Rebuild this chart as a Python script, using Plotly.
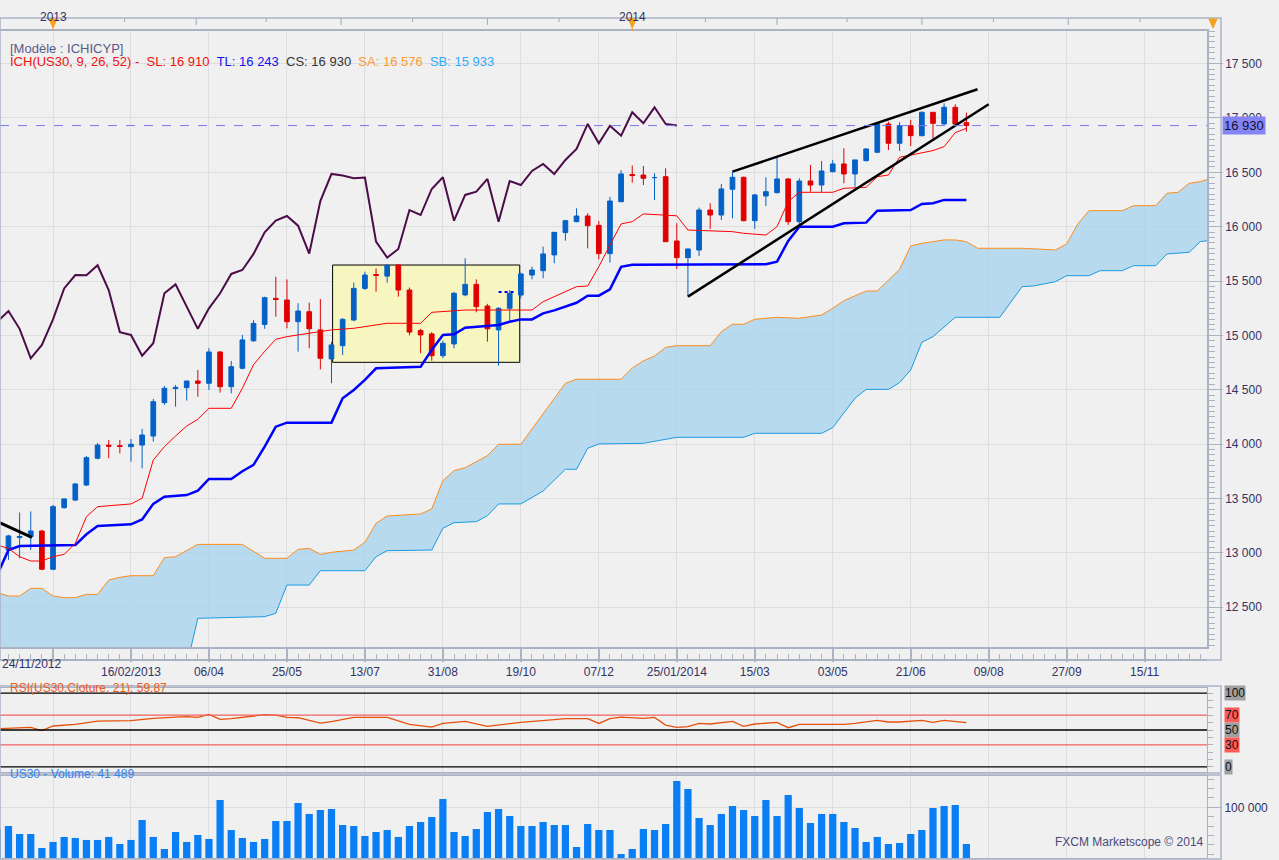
import pandas as pd
import plotly.graph_objects as go

# US30 weekly, 24/11/2012 -> 26/07/2014 (FXCM Marketscope, Ichimoku 9/26/52)
week0 = pd.Timestamp("2013-02-16")          # week number 0 = the 16/02/2013 tick
dates = pd.date_range("2012-11-24", "2014-07-26", freq="7D")

opens = [13000, 13025, 13140, 13148, 13200, 12848, 13415, 13485, 13623, 13869, 13990, 13985,
         13976, 13991, 14074, 14381, 14510, 14519, 14580, 14559, 14847, 14528, 14697, 14950,
         15100, 15340, 15325, 15126, 15218, 15050, 14783, 14905, 15141, 15432, 15560, 15545,
         15647, 15417, 15045, 15013, 14813, 14921, 15372, 15469, 15270, 15050, 15249, 15371,
         15555, 15595, 15740, 15945, 16046, 16098, 16012, 15752, 16230, 16480, 16475, 16450,
         16460, 15868, 15715, 15785, 16153, 16107, 16344, 16454, 16055, 16282, 16313, 16439,
         16046, 16420, 16383, 16506, 16577, 16485, 16607, 16684, 16945, 16767, 16929, 16837,
         17052, 16945, 17098, 16957]
highs = [13080, 13165, 13370, 13380, 13210, 13440, 13500, 13640, 13890, 14010, 14037, 14037,
         14047, 14139, 14415, 14534, 14543, 14580, 14682, 14881, 14856, 14764, 15004, 15140,
         15356, 15540, 15515, 15295, 15300, 15334, 14940, 15160, 15485, 15586, 15616, 15650,
         15652, 15440, 15060, 15030, 14950, 15400, 15709, 15515, 15290, 15260, 15417, 15577,
         15632, 15816, 15950, 16060, 16169, 16123, 16052, 16276, 16520, 16562, 16558, 16491,
         16537, 16031, 15795, 16175, 16215, 16393, 16506, 16460, 16300, 16454, 16638, 16445,
         16445, 16568, 16604, 16614, 16721, 16614, 16720, 16960, 16966, 16960, 16982, 17060,
         17055, 17135, 17126, 17049]
lows = [12960, 12935, 12950, 13025, 12840, 12840, 13405, 13475, 13615, 13860, 13869, 13915,
        13838, 13777, 14022, 14360, 14344, 14400, 14436, 14498, 14473, 14467, 14688, 14940,
        15060, 15172, 15065, 14850, 14881, 14687, 14559, 14820, 15130, 15417, 15402, 15485,
        15356, 15000, 14835, 14767, 14790, 14880, 15360, 15212, 14942, 14721, 15120, 15340,
        15515, 15525, 15663, 15871, 16040, 15800, 15700, 15669, 16225, 16405, 16383, 16245,
        15862, 15611, 15356, 15730, 15979, 16061, 16077, 16050, 15979, 16190, 16305, 16016,
        16000, 16322, 16316, 16500, 16399, 16368, 16600, 16680, 16705, 16696, 16742, 16830,
        16813, 16940, 16940, 16874]
closes = [13040, 13155, 13150, 13200, 12848, 13424, 13495, 13633, 13875, 13991, 13980, 13978,
          13998, 14083, 14390, 14513, 14522, 14580, 14559, 14847, 14528, 14712, 14958, 15110,
          15347, 15330, 15126, 15224, 15060, 14789, 14912, 15147, 15432, 15555, 15552, 15645,
          15417, 15030, 15004, 14813, 14927, 15387, 15469, 15264, 15060, 15249, 15387, 15565,
          15601, 15749, 15948, 16055, 16098, 16009, 15752, 16236, 16485, 16470, 16445, 16452,
          15862, 15715, 15795, 16153, 16107, 16347, 16454, 16055, 16292, 16322, 16439, 16046,
          16420, 16383, 16512, 16577, 16485, 16614, 16715, 16945, 16767, 16929, 16837, 17052,
          16951, 17098, 16945, 16930]
volumes = [64900, 70200, 57400, 57400, 35100, 44700, 52700, 51100, 47900, 47900, 52700, 41500,
           47900, 79800, 52700, 33500, 60600, 44700, 55800, 49500, 111700, 63800, 51100, 44700,
           49500, 78200, 78200, 106900, 89400, 95700, 97300, 71800, 70200, 54200, 60600, 63800,
           52700, 70200, 76600, 84600, 113300, 60600, 54200, 65400, 92600, 97300, 86200, 70200,
           70200, 76600, 71800, 71800, 36700, 73400, 63800, 63800, 25500, 33500, 65400, 63800,
           73400, 142000, 129300, 83000, 71800, 89400, 102100, 95700, 86200, 111700, 86200, 119700,
           98900, 75000, 89400, 89400, 76600, 67000, 44700, 52700, 41500, 43100, 57400, 63800,
           98900, 102100, 103700, 41489]

# indicator lines, vertices (week number, value)
tenkan_w = [-12, -11, -10, -9, -8, -7, -6, -5, -4, -3, 0, 1, 2, 3, 4, 5, 6, 7, 9, 10, 11, 12, 13,
            14, 15, 17, 18, 20, 23, 26, 27, 30, 36, 37, 40, 41, 42, 43, 44, 45, 46, 49, 50, 54, 55,
            57, 58, 59, 60, 63, 64, 66, 67, 68, 69, 72, 73, 74, 75]
tenkan_v = [13070, 13040, 12964, 12924, 12924, 12964, 12985, 13087, 13332, 13424, 13449, 13501,
            13853, 13976, 14074, 14166, 14228, 14329, 14329, 14513, 14730, 14853, 14964, 14988,
            15004, 15034, 15050, 15065, 15111, 15111, 15212, 15233, 15233, 15310, 15448, 15454,
            15632, 15831, 16025, 16046, 16117, 16100, 15969, 15954, 15939, 15923, 16000, 16230,
            16316, 16316, 16353, 16362, 16460, 16475, 16638, 16700, 16736, 16865, 16905]
kijun_w = [-12, -11, -10, -5, -4, -3, 0, 1, 2, 3, 5, 6, 7, 9, 10, 11, 12, 13, 14, 18, 19, 20, 21,
           22, 26, 27, 28, 29, 30, 33, 34, 35, 36, 37, 38, 39, 40, 41, 42, 43, 44, 45, 57, 58, 59,
           60, 63, 64, 66, 67, 70, 71, 72, 73, 75]
kijun_v = [12800, 13025, 13062, 13071, 13170, 13246, 13262, 13307, 13450, 13516, 13531, 13571,
           13679, 13679, 13750, 13808, 13976, 14160, 14197, 14197, 14421, 14498, 14590, 14697,
           14712, 14866, 15004, 15010, 15071, 15095, 15126, 15147, 15147, 15202, 15230, 15264,
           15300, 15365, 15365, 15423, 15630, 15650, 15654, 15678, 15868, 16000, 16000, 16031,
           16037, 16147, 16153, 16209, 16215, 16246, 16246]
senkou_a_w = [-12, -11, -10, -9, -8, -7, -6, -5, -4, -3, -2, -1, 0, 2, 3, 4, 6, 10, 12, 14, 15, 16,
              17, 18, 20, 21, 22, 23, 26, 27, 28, 29, 30, 32, 33, 35, 39, 40, 44, 45, 46, 47, 48,
              49, 52, 53, 54, 55, 56, 58, 60, 62, 63, 64, 66, 67, 69, 70, 71, 73, 74, 75, 76, 80,
              83, 84, 85, 86, 89, 90, 92, 93, 94, 95, 96, 101]
senkou_a_v = [12633, 12602, 12602, 12673, 12673, 12602, 12587, 12587, 12617, 12617, 12749, 12774,
              12789, 12789, 12955, 12964, 13077, 13077, 12949, 12949, 13031, 13041, 12985, 13004,
              13025, 13096, 13271, 13338, 13357, 13403, 13663, 13755, 13783, 13893, 13998, 13998,
              14559, 14596, 14596, 14700, 14765, 14810, 14890, 14905, 14905, 15034, 15102, 15102,
              15148, 15166, 15157, 15187, 15249, 15319, 15408, 15408, 15608, 15822, 15847, 15878,
              15878, 15862, 15801, 15801, 15786, 15841, 16025, 16147, 16147, 16193, 16193, 16307,
              16316, 16399, 16414, 16576]
senkou_b_w = [-12, 5, 6, 12, 13, 14, 16, 17, 21, 22, 23, 27, 28, 29, 31, 32, 33, 35, 37, 39, 40,
              41, 42, 46, 49, 55, 56, 62, 63, 65, 66, 68, 69, 70, 71, 72, 74, 78, 80, 81, 83, 84,
              86, 87, 89, 90, 92, 93, 95, 96, 101]
senkou_b_v = [11900, 11960, 12397, 12412, 12443, 12703, 12703, 12835, 12835, 12964, 13019, 13025,
              13225, 13277, 13286, 13341, 13449, 13449, 13568, 13768, 13768, 13961, 14001, 14007,
              14062, 14062, 14099, 14099, 14151, 14421, 14503, 14503, 14565, 14681, 14936, 14988,
              15166, 15166, 15448, 15454, 15494, 15549, 15549, 15595, 15595, 15641, 15641, 15749,
              15764, 15862, 15933]
chikou_shift = 26

rsi_w = [-12, -10, -9, -8, -7, -5, -3, 0, 2, 4, 5, 6, 7, 8, 9, 12, 13, 14, 15, 17, 18, 20, 23, 25,
         27, 28, 30, 32, 35, 38, 39, 41, 42, 43, 44, 46, 47, 48, 49, 50, 51, 52, 54, 55, 56, 58,
         59, 60, 64, 65, 67, 68, 69, 71, 72, 73, 75]
rsi_v = [51.6, 53.1, 53.6, 49.1, 55.4, 57.6, 62.1, 62.6, 65.7, 67.5, 68.0, 67.1, 71.1, 64.4, 65.3,
         70.7, 70.2, 67.1, 66.6, 59.4, 61.2, 67.1, 67.1, 57.6, 54.0, 58.9, 61.7, 54.9, 60.3, 63.9,
         65.3, 65.3, 58.9, 65.3, 67.5, 65.7, 67.1, 56.7, 53.6, 54.5, 58.9, 58.1, 61.7, 54.9, 58.1,
         60.3, 53.1, 57.6, 57.6, 58.9, 63.0, 60.8, 60.8, 63.0, 60.3, 63.0, 59.87]

# hand drawn objects on the chart
wedge_top_w, wedge_top_p = [54, 76], [16506, 17264]
wedge_low_w, wedge_low_p = [50, 77], [15356, 17126]
old_line_w, old_line_p = [-11.8, -8.9], [13277, 13142]
dots_w, dots_p = [33, 34.5], [15400, 15400]
box_w, box_p = [18.1, 34.9], [14752, 15647]

price_ticks = [12500, 13000, 13500, 14000, 14500, 15000, 15500, 16000, 16500, 17000, 17500]
date_tick_labels = ["", "16/02/2013", "06/04", "25/05", "13/07", "31/08", "19/10", "07/12",
                    "25/01/2014", "15/03", "03/05", "21/06", "09/08", "27/09", "15/11"]
year_labels = ["2013", "2014"]
year_marks = ["2012-12-29", "2013-12-28", "2014-12-27"]
strip_ticks = ["2013-02-12", "2013-03-29", "2013-05-12", "2013-06-28", "2013-08-12", "2013-09-28",
               "2013-11-12", "2014-02-12", "2014-03-29", "2014-05-12", "2014-06-28", "2014-08-12",
               "2014-09-28", "2014-11-12"]


def wdate(w):
    return week0 + pd.Timedelta(days=7 * w)


def wdates(ws):
    return [wdate(w) for w in ws]


def py(y):  # pixel row -> paper
    return (858 - y) / 827


def px(x):  # pixel column -> paper
    return x / 1207


def spaced(v):
    return f"{v:,}".replace(",", " ")


BG = "#f0f0f0"
GRID = "#dedede"
FRAME = "#aab3c4"
NAVY = "#333366"
FONT = "Liberation Sans"
ORANGE = "#f5a21c"
UP, DOWN = "#0561c6", "#e00000"

fig = go.Figure()

# kumo
fig.add_trace(go.Scatter(x=wdates(senkou_a_w), y=senkou_a_v, mode="lines",
                         line=dict(color="#ff8c1a", width=1)))
fig.add_trace(go.Scatter(x=wdates(senkou_b_w), y=senkou_b_v, mode="lines", fill="tonexty",
                         fillcolor="rgba(166,211,237,0.75)", line=dict(color="#1c9be0", width=1)))
# chikou = closes plotted 26 weeks back
fig.add_trace(go.Scatter(x=dates[:len(dates) - chikou_shift], y=closes[chikou_shift:], mode="lines",
                         line=dict(color="#4b0c47", width=2)))
fig.add_trace(go.Scatter(x=wdates(kijun_w), y=kijun_v, mode="lines",
                         line=dict(color="#0000ff", width=2.5)))
fig.add_trace(go.Scatter(x=wdates(tenkan_w), y=tenkan_v, mode="lines",
                         line=dict(color="#ff0000", width=1)))

fig.add_trace(go.Candlestick(
    x=dates, open=opens, high=highs, low=lows, close=closes, whiskerwidth=0,
    increasing=dict(line=dict(color=UP, width=1), fillcolor=UP),
    decreasing=dict(line=dict(color=DOWN, width=1), fillcolor=DOWN)))

for tw, tp, lw in [(wedge_top_w, wedge_top_p, 2.5), (wedge_low_w, wedge_low_p, 2.5),
                   (old_line_w, old_line_p, 3)]:
    fig.add_trace(go.Scatter(x=wdates(tw), y=tp, mode="lines", line=dict(color="black", width=lw)))
fig.add_trace(go.Scatter(x=wdates(dots_w), y=dots_p, mode="lines",
                         line=dict(color="#0000ff", width=2, dash="dot")))

# RSI panel
fig.add_trace(go.Scatter(x=wdates(rsi_w), y=rsi_v, mode="lines", xaxis="x2", yaxis="y2",
                         line=dict(color="#e8500a", width=1.3)))
# volume panel
fig.add_trace(go.Bar(x=dates, y=volumes, xaxis="x3", yaxis="y3", marker=dict(color="#0a7ef5", line_width=0)))
# dummy trace to show the weekly ruler axis
fig.add_trace(go.Scatter(x=[dates[0]], y=[None], xaxis="x4", yaxis="y", mode="lines"))

xr = [wdate(-11.76), wdate(96.6)]
major_dates = [wdate(-7 + 7 * i) for i in range(len(date_tick_labels))]
tickfont = dict(family=FONT, size=12, color=NAVY)
common_x = dict(type="date", range=xr, domain=[0, 1], tickvals=major_dates, showgrid=True,
                gridcolor=GRID, gridwidth=1, zeroline=False, automargin=False)

layout = dict(
    width=1279, height=860, paper_bgcolor=BG, plot_bgcolor=BG, showlegend=False,
    margin=dict(l=0, r=72, t=31, b=2, autoexpand=False), boxgap=0.4, bargap=0.35, hovermode=False,
    font=dict(family=FONT, size=12, color=NAVY),
    xaxis=dict(**common_x, anchor="y", ticktext=date_tick_labels, ticks="outside", ticklen=13,
               tickcolor=FRAME, tickwidth=1.5, tickfont=tickfont, showline=True, mirror=True,
               linecolor=FRAME, linewidth=1.5, rangeslider=dict(visible=False)),
    xaxis2=dict(**common_x, anchor="y2", matches="x", showticklabels=False, ticks="",
                showline=True, mirror=True, linecolor=FRAME),
    xaxis3=dict(**common_x, anchor="y3", matches="x", showticklabels=False, ticks="",
                showline=True, mirror=True, linecolor=FRAME),
    xaxis4=dict(type="date", range=xr, matches="x", overlaying="x", anchor="free", position=py(660),
                side="bottom", tick0="2013-02-16", dtick=7 * 86400000, ticks="inside", ticklen=5,
                tickcolor=FRAME, showticklabels=False, showgrid=False, showline=True,
                linecolor=FRAME, linewidth=1.5, zeroline=False, automargin=False),
    yaxis=dict(domain=[py(647), 1], range=[12133, 17800], side="right", tickvals=price_ticks,
               ticktext=[spaced(v) for v in price_ticks], ticks="outside", ticklen=14,
               tickcolor=FRAME, tickfont=tickfont, showgrid=True, gridcolor=GRID, zeroline=False,
               showline=True, mirror=True, linecolor=FRAME, linewidth=1.5, automargin=False,
               minor=dict(dtick=50, ticklen=6, tickcolor=FRAME, ticks="outside", showgrid=False)),
    yaxis2=dict(domain=[py(772), py(688)], range=[-6.8, 106.8], side="right", showticklabels=False,
                ticks="outside", ticklen=5, dtick=10, tickcolor=FRAME, showgrid=False,
                zeroline=False, showline=True, mirror=True, linecolor=FRAME, automargin=False),
    yaxis3=dict(domain=[0, py(776)], range=[19100, 150000], side="right", tickvals=[100000],
                ticktext=["100 000"], ticks="outside", ticklen=14, tickcolor=FRAME, tickfont=tickfont,
                showgrid=True, gridcolor=GRID, zeroline=False, showline=True, mirror=True,
                linecolor=FRAME, automargin=False,
                minor=dict(tick0=100000, dtick=15000, ticklen=6, tickcolor=FRAME, ticks="outside")),
)
fig.update_layout(**layout)

shapes = []
# yellow consolidation box
shapes.append(dict(type="rect", xref="x", yref="y", x0=wdate(box_w[0]), x1=wdate(box_w[1]),
                   y0=box_p[0], y1=box_p[1], fillcolor="#f8f6c0", line=dict(color="black", width=1),
                   layer="between"))
# last price line
shapes.append(dict(type="line", xref="paper", yref="y", x0=0, x1=1, y0=closes[-1], y1=closes[-1],
                   line=dict(color="#7878f0", width=1, dash="dash")))
# RSI levels
for lvl, col in [(100, "black"), (70, "#f06060"), (50, "black"), (30, "#f06060"), (0, "black")]:
    shapes.append(dict(type="line", xref="paper", yref="y2", x0=0, x1=1, y0=lvl, y1=lvl,
                       line=dict(color=col, width=1.3)))
# frames
shapes.append(dict(type="rect", xref="paper", yref="paper", x0=0, x1=px(1221), y0=py(660),
                   y1=py(18), line=dict(color=FRAME, width=1.5)))
shapes.append(dict(type="rect", xref="paper", yref="paper", x0=0, x1=px(1221), y0=py(773),
                   y1=py(686), line=dict(color=FRAME, width=1.5)))
shapes.append(dict(type="rect", xref="paper", yref="paper", x0=0, x1=px(1221), y0=py(859),
                   y1=py(775), line=dict(color=FRAME, width=1.5)))
# top time strip ticks
for d in strip_ticks:
    long_tick = pd.Timestamp(d).month in (3, 6, 9)
    shapes.append(dict(type="line", xref="x", yref="paper", x0=d, x1=d, y0=py(25 if long_tick else 22),
                       y1=py(18), line=dict(color=FRAME, width=1.2)))
# year-change markers: small orange triangle + thin line
for d in year_marks[:2]:
    shapes.append(dict(type="line", xref="x", yref="paper", x0=d, x1=d, y0=py(31), y1=py(18),
                       line=dict(color=ORANGE, width=1)))
    shapes.append(dict(type="path", xref="x", yref="paper", xsizemode="pixel", ysizemode="pixel",
                       xanchor=d, yanchor=py(19), path="M -4,0 L 4,0 L 0,-9 Z",
                       fillcolor=ORANGE, line=dict(color=ORANGE, width=1)))
shapes.append(dict(type="path", xref="paper", yref="paper", xsizemode="pixel", ysizemode="pixel",
                   xanchor=px(1213), yanchor=py(19), path="M -4,0 L 4,0 L 0,-9 Z",
                   fillcolor=ORANGE, line=dict(color=ORANGE, width=1)))
fig.update_layout(shapes=shapes)

ann = []
for lbl, d in zip(year_labels, year_marks):
    ann.append(dict(text=lbl, xref="x", yref="paper", x=d, y=py(8), showarrow=False,
                    font=dict(family=FONT, size=12, color=NAVY)))
ann.append(dict(text="24/11/2012", xref="paper", yref="paper", x=0, y=py(673), xanchor="left",
                showarrow=False, font=tickfont))
ann.append(dict(text="[Modèle : ICHICYP]", xref="paper", yref="paper", x=px(8), y=py(39),
                xanchor="left", showarrow=False, font=dict(family=FONT, size=13, color="#5a5a8a")))
nb = "\u00a0"
legend_txt = (f'<span style="color:#ee1111">ICH(US30, 9, 26, 52) -{nb}{nb}SL: 16 910</span>{nb}{nb}'
              f'<span style="color:#1010ee">TL: 16 243</span>{nb}{nb}'
              f'<span style="color:#333333">CS: 16 930</span>{nb}{nb}'
              f'<span style="color:#ff9933">SA: 16 576</span>{nb}{nb}'
              f'<span style="color:#33aaff">SB: 15 933</span>')
ann.append(dict(text=legend_txt, xref="paper", yref="paper", x=px(8), y=py(52), xanchor="left",
                showarrow=False, font=dict(family=FONT, size=13)))
ann.append(dict(text="RSI(US30.Cloture, 21): 59,87", xref="paper", yref="paper", x=px(8), y=py(697),
                xanchor="left", showarrow=False, font=dict(family=FONT, size=12, color="#ee5a1a")))
ann.append(dict(text="US30 - Volume: 41 489", xref="paper", yref="paper", x=px(8), y=py(783),
                xanchor="left", showarrow=False, font=dict(family=FONT, size=12, color="#2d86f0")))
ann.append(dict(text="FXCM Marketscope © 2014", xref="paper", yref="paper", x=px(1206), y=py(851),
                xanchor="right", showarrow=False, font=dict(family=FONT, size=12, color="#4a4a78")))
ann.append(dict(text=spaced(closes[-1]), xref="paper", yref="y", x=px(1222), y=closes[-1],
                xanchor="left", showarrow=False, bgcolor="#8484f5", borderpad=1,
                font=dict(family=FONT, size=13, color="#111133")))
for lvl, bg in [(100, "#a0a0a0"), (70, "#ff5a5a"), (50, "#a0a0a0"), (30, "#ff5a5a"), (0, "#a0a0a0")]:
    ann.append(dict(text=str(lvl), xref="paper", yref="y2", x=px(1224), y=lvl, xanchor="left",
                    showarrow=False, bgcolor=bg, borderpad=0,
                    font=dict(family=FONT, size=12, color="#111111")))
fig.update_layout(annotations=ann)

# the page body has an 8px default margin; drop it so the chart sits at 0,0 like the original
fig.write_html("out.html", config={"displayModeBar": False},
               post_script="document.body.style.margin='0';document.body.style.background='#f0f0f0';")
